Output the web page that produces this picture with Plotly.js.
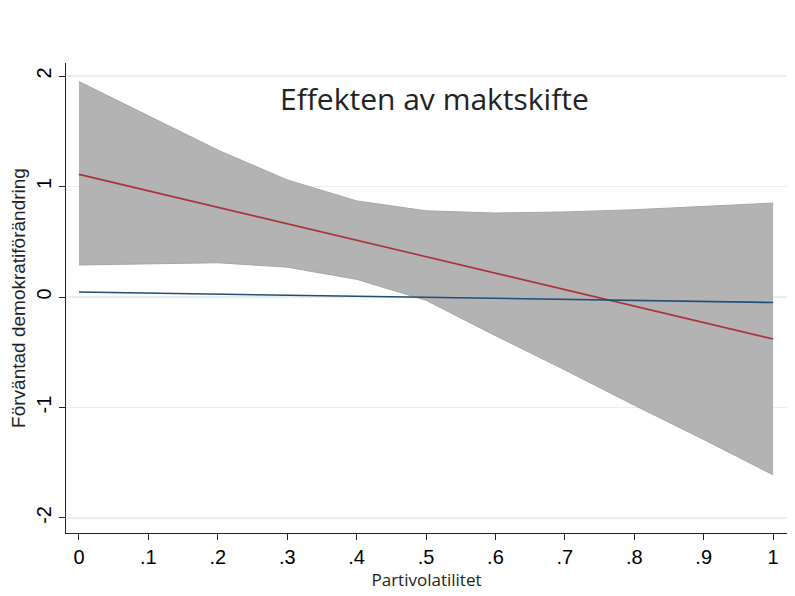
<!DOCTYPE html>
<html><head><meta charset="utf-8">
<script src="https://cdn.plot.ly/plotly-3.0.1.min.js"></script>
<style>body{margin:0;background:#fff}</style>
</head><body>
<div id="chart" style="width:795px;height:596px"></div>
<script>
const bandX = [0, 0.2, 0.3, 0.4, 0.5, 0.6, 0.7, 0.8, 0.9, 1];
const upperCI = [1.95, 1.33, 1.06, 0.87, 0.78, 0.76, 0.77, 0.79, 0.82, 0.85];
const lowerCI = [0.29, 0.31, 0.27, 0.16, -0.03, -0.35, -0.66, -0.98, -1.29, -1.61];
const lineX = [0, 1];
const redLine = [1.11, -0.38];
const blueLine = [0.045, -0.05];
const xTicks = [0, 0.1, 0.2, 0.3, 0.4, 0.5, 0.6, 0.7, 0.8, 0.9, 1];
const xTickText = ['0', '.1', '.2', '.3', '.4', '.5', '.6', '.7', '.8', '.9', '1'];
const yTicks = [-2, -1, 0, 1, 2];

const traces = [
  {x: bandX, y: upperCI, mode: 'lines', line: {color: '#a6a6a6', width: 1}, hoverinfo: 'skip', showlegend: false},
  {x: bandX, y: lowerCI, mode: 'lines', line: {color: '#a6a6a6', width: 1}, fill: 'tonexty', fillcolor: '#b3b3b3', hoverinfo: 'skip', showlegend: false},
  {x: lineX, y: redLine, mode: 'lines', line: {color: '#a8323e', width: 1.6}, showlegend: false},
  {x: lineX, y: blueLine, mode: 'lines', line: {color: '#1f4e79', width: 1.6}, showlegend: false}
];

const layout = {
  width: 795, height: 596,
  margin: {l: 66, r: 8, t: 63, b: 63},
  paper_bgcolor: '#fff', plot_bgcolor: '#fff',
  showlegend: false,
  xaxis: {
    range: [-0.0187, 1.02], tickvals: xTicks, ticktext: xTickText,
    showgrid: false, zeroline: false, showline: true, linecolor: '#222', linewidth: 1.3,
    ticks: 'outside', ticklen: 6, tickcolor: '#222',
    tickfont: {family: 'Liberation Sans, Arial', size: 20, color: '#000'},
    title: {text: 'Partivolatilitet', font: {family: 'Open Sans', size: 17, color: '#222'}, standoff: 0}
  },
  yaxis: {
    range: [-2.136, 2.118], tickvals: yTicks, ticktext: ['-2', '-1', '0', '1', '2'],
    showgrid: true, gridcolor: '#e6f0f1', gridwidth: 1.5, zeroline: false,
    showline: true, linecolor: '#222', linewidth: 1.3,
    ticks: 'outside', ticklen: 6, tickcolor: '#222', tickangle: -90,
    tickfont: {family: 'Liberation Sans, Arial', size: 20, color: '#000'},
    title: {text: 'Förväntad demokratiförändring', font: {family: 'Liberation Sans, Arial', size: 19, color: '#222'}, standoff: 2}
  },
  annotations: [{
    text: 'Effekten av maktskifte', xref: 'paper', yref: 'paper',
    x: 0.511, y: 0.925, xanchor: 'center', yanchor: 'middle', showarrow: false,
    font: {family: 'Open Sans', size: 30, color: '#222'}
  }]
};
Plotly.newPlot('chart', traces, layout, {displayModeBar: false, staticPlot: true});
</script>
</body></html>
